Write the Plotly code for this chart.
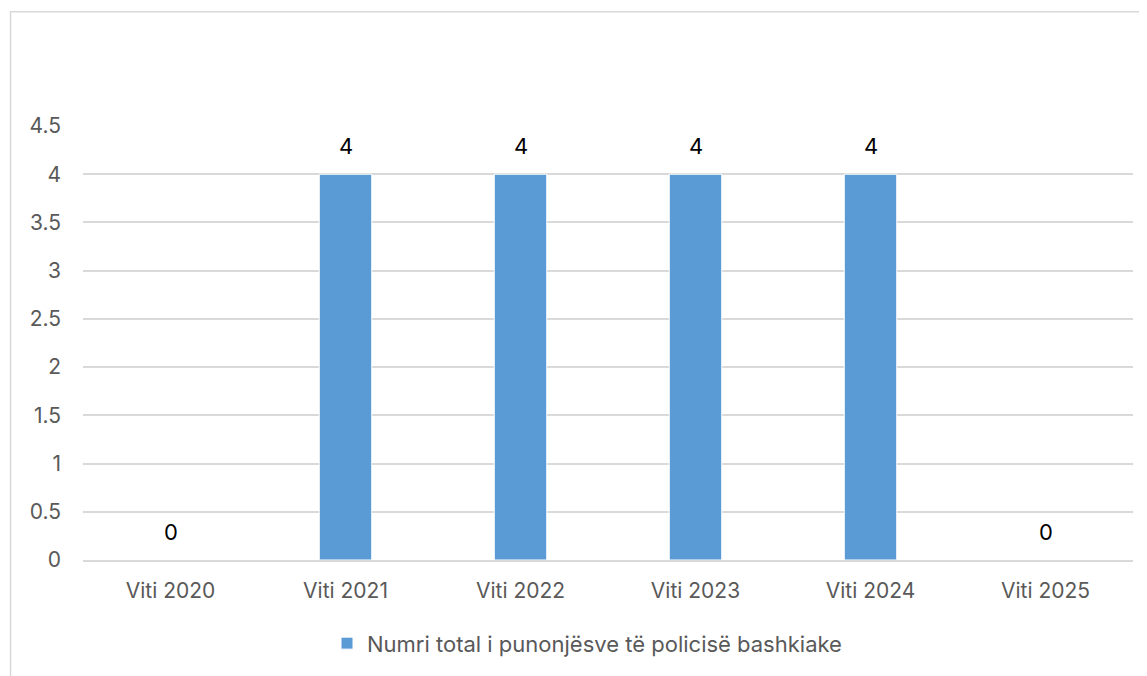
import plotly.graph_objects as go

# Të dhënat e grafikut
kategorite = ["Viti 2020", "Viti 2021", "Viti 2022", "Viti 2023", "Viti 2024", "Viti 2025"]
punonjes = [0, 4, 4, 4, 4, 0]
emri_serise = "Numri total i punonjësve të policisë bashkiake"
y_ticks = [0, 0.5, 1, 1.5, 2, 2.5, 3, 3.5, 4, 4.5]
y_tick_labels = ["0", "0.5", "1", "1.5", "2", "2.5", "3", "3.5", "4", "4.5"]

FONT = "Inter, Open Sans, Liberation Sans, sans-serif"
GRI = "#595959"

fig = go.Figure()
fig.add_trace(
    go.Bar(
        x=kategorite,
        y=punonjes,
        name=emri_serise,
        marker=dict(color="#5B9BD5", line=dict(color="white", width=1)),
    )
)

# etiketat e vlerave mbi shtyllat
for kat, vlera in zip(kategorite, punonjes):
    fig.add_annotation(
        x=kat, y=vlera, text=str(vlera), showarrow=False,
        yshift=28, yanchor="middle",
        font=dict(family=FONT, size=22, color="#000000"),
    )

# korniza e grafikut
fig.add_shape(
    type="rect", xref="paper", yref="paper",
    x0=-0.069, x1=1.2, y0=-0.5, y1=1.263,
    line=dict(color="#D9D9D9", width=1.5), fillcolor="rgba(0,0,0,0)",
    layer="below",
)

fig.update_layout(
    width=1139, height=668,
    margin=dict(l=75, r=14, t=118, b=113),
    paper_bgcolor="white", plot_bgcolor="white",
    bargap=0.70,
    showlegend=True,
    legend=dict(
        orientation="h", x=0.48, xanchor="center", y=-0.192, yanchor="middle",
        font=dict(family=FONT, size=22, color=GRI),
    ),
    font=dict(family=FONT, color=GRI),
)
fig.update_xaxes(
    showgrid=False, showline=True, linecolor="#D9D9D9", linewidth=1.5,
    tickfont=dict(family=FONT, size=21, color=GRI),
    ticks="", ticklabelstandoff=11,
)
fig.update_yaxes(
    range=[0, 4.5], tickvals=y_ticks, ticktext=y_tick_labels,
    showgrid=True, gridcolor="#D9D9D9", gridwidth=1.5,
    zeroline=False, showline=False,
    tickfont=dict(family=FONT, size=21, color=GRI),
    ticks="", ticklabelstandoff=21,
)

fig.write_html("out.html")
